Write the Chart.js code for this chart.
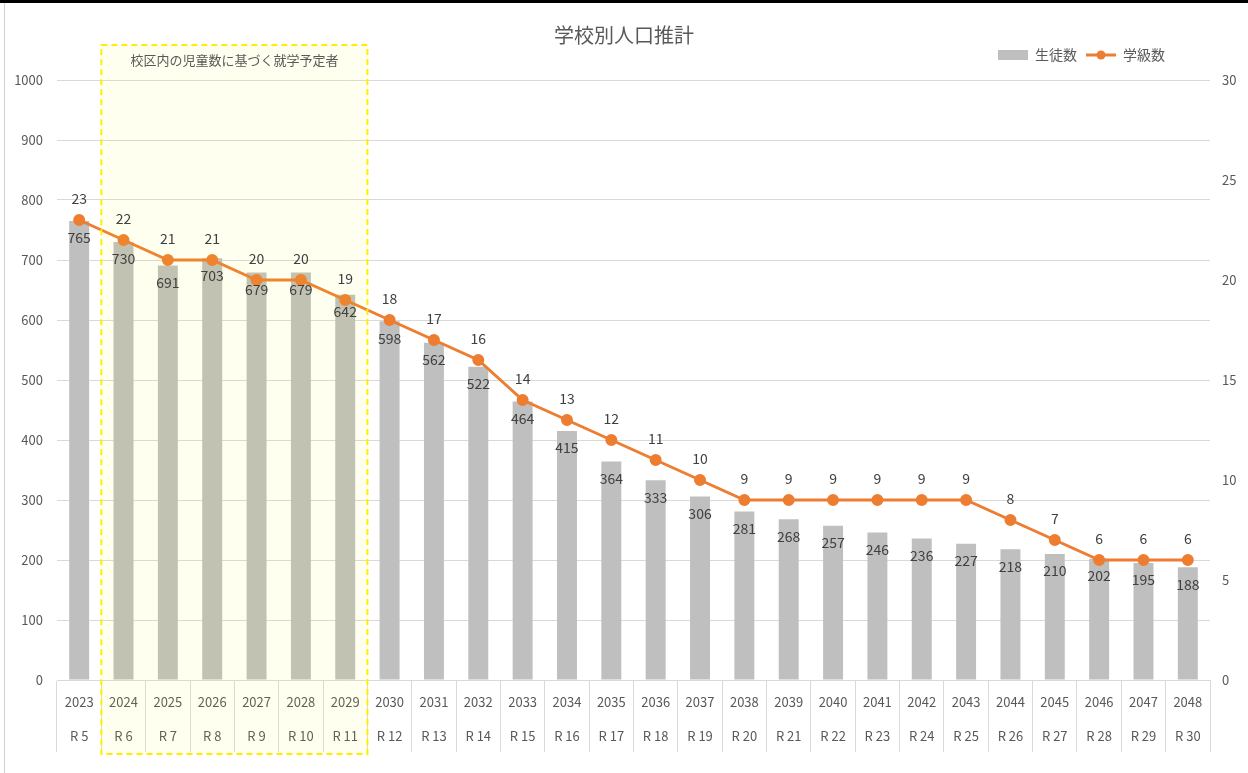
<!DOCTYPE html>
<html>
<head>
<meta charset="utf-8">
<script src="https://cdn.jsdelivr.net/npm/chart.js@4"></script>
<style>
html,body{margin:0;padding:0;background:#fff;}
#wrap{position:relative;width:1248px;height:773px;box-sizing:border-box;border-top:3px solid #000;}
#wrap:before{content:"";position:absolute;left:4px;top:0;bottom:0;border-left:1px solid #d0d0d0;}
</style>
</head>
<body>
<div id="wrap"><canvas id="myChart" width="1248" height="770"></canvas></div>
<script>
// data
var years = ["2023","2024","2025","2026","2027","2028","2029","2030","2031","2032","2033","2034","2035","2036","2037","2038","2039","2040","2041","2042","2043","2044","2045","2046","2047","2048"];
var reiwa = ["R 5","R 6","R 7","R 8","R 9","R 10","R 11","R 12","R 13","R 14","R 15","R 16","R 17","R 18","R 19","R 20","R 21","R 22","R 23","R 24","R 25","R 26","R 27","R 28","R 29","R 30"];
var students = [765,730,691,703,679,679,642,598,562,522,464,415,364,333,306,281,268,257,246,236,227,218,210,202,195,188];
var classes = [23,22,21,21,20,20,19,18,17,16,14,13,12,11,10,9,9,9,9,9,9,8,7,6,6,6];
var boxFrom = 1, boxTo = 6;
var boxText = "校区内の児童数に基づく就学予定者";

var FONT = "'Noto Sans CJK JP','Noto Sans',sans-serif";
var TXT = "#595959";
var labels = [];
for(var i in years){ labels.push([years[i], reiwa[i]]); }

function legendImg(kind){
  var c = document.createElement("canvas");
  c.width = 30; c.height = 12;
  var g = c.getContext("2d");
  if(kind=="bar"){
    g.fillStyle = "#bfbfbf"; g.fillRect(0,1,30,10);
  } else {
    g.strokeStyle = "#ed7d31"; g.lineWidth = 3;
    g.beginPath(); g.moveTo(0,6); g.lineTo(30,6); g.stroke();
    g.fillStyle = "#ed7d31"; g.beginPath(); g.arc(15,6,4.5,0,Math.PI*2); g.fill();
  }
  return c;
}
var legBar = legendImg("bar"), legLine = legendImg("line");

var boxPlugin = {
  id: "box",
  afterLayout: function(chart){
    // legend sits left of the right edge and a bit higher
    var lg = chart.legend;
    lg.right -= 74;
    lg.top -= 8; lg.bottom -= 8;
  },
  afterDatasetsDraw: function(chart){
    var x = chart.scales.x, ctx = chart.ctx;
    var half = (x.getPixelForValue(1) - x.getPixelForValue(0))/2;
    var l = x.getPixelForValue(boxFrom) - half, r = x.getPixelForValue(boxTo) + half;
    ctx.save();
    ctx.fillStyle = "rgba(255,255,0,0.06)";
    ctx.fillRect(l, 42, r-l, 709);
    ctx.strokeStyle = "#ffee00"; ctx.lineWidth = 2; ctx.setLineDash([6,4]);
    ctx.strokeRect(l, 42, r-l, 709);
    ctx.setLineDash([]);
    ctx.fillStyle = TXT; ctx.font = "13px " + FONT;
    ctx.textAlign = "center"; ctx.textBaseline = "middle";
    ctx.fillText(boxText, (l+r)/2, 57);
    ctx.restore();
  },
  afterDraw: function(chart){
    var ctx = chart.ctx;
    ctx.save();
    ctx.fillStyle = "#404040"; ctx.font = "14px " + FONT;
    ctx.textAlign = "center"; ctx.textBaseline = "middle";
    chart.getDatasetMeta(0).data.forEach(function(b, i){
      ctx.fillText(students[i], b.x, b.y + 17);
    });
    chart.getDatasetMeta(1).data.forEach(function(p, i){
      ctx.fillText(classes[i], p.x, p.y - 21);
    });
    ctx.restore();
  }
};

new Chart("myChart", {
  type: "bar",
  data: {
    labels: labels,
    datasets: [{
      label: "生徒数",
      data: students,
      backgroundColor: "#bfbfbf",
      categoryPercentage: 1,
      barPercentage: 0.45,
      yAxisID: "y",
      order: 2
    },{
      type: "line",
      label: "学級数",
      data: classes,
      borderColor: "#ed7d31",
      backgroundColor: "#ed7d31",
      borderWidth: 3,
      pointRadius: 4.5,
      pointHoverRadius: 4.5,
      yAxisID: "y1",
      order: 1
    }]
  },
  plugins: [boxPlugin],
  options: {
    responsive: false,
    animation: false,
    layout: {padding: {left: 0, right: 0, top: 0, bottom: 0}},
    plugins: {
      tooltip: {enabled: false},
      title: {
        display: true, text: "学校別人口推計", color: TXT,
        font: {family: FONT, size: 20, weight: "normal"},
        padding: {top: 20, bottom: 0}
      },
      legend: {
        position: "top", align: "end",
        labels: {
          color: TXT, font: {family: FONT, size: 14}, usePointStyle: true,
          pointStyleWidth: 30, padding: 9,
          generateLabels: function(chart){
            return [
              {text: "生徒数", pointStyle: legBar, fontColor: TXT, datasetIndex: 0, lineWidth: 0, strokeStyle: "rgba(0,0,0,0)", fillStyle: "#bfbfbf"},
              {text: "学級数", pointStyle: legLine, fontColor: TXT, datasetIndex: 1, lineWidth: 0, strokeStyle: "rgba(0,0,0,0)", fillStyle: "#ed7d31"}
            ];
          }
        }
      }
    },
    scales: {
      x: {
        offset: true,
        grid: {drawOnChartArea: false, tickLength: 72, color: "#d9d9d9", offset: true},
        border: {color: "#d9d9d9"},
        ticks: {color: TXT, font: {family: FONT, size: 13, lineHeight: 2.6}, padding: -67, maxRotation: 0, autoSkip: false},
        afterFit: function(s){ s.height = 93; }
      },
      y: {
        position: "left", min: 0, max: 1000,
        ticks: {stepSize: 100, color: TXT, font: {family: FONT, size: 13}, padding: 14,
          callback: function(v){ return String(v); }},
        grid: {color: "#d9d9d9", drawTicks: false},
        border: {display: false},
        afterFit: function(s){ s.width = 57; }
      },
      y1: {
        position: "right", min: 0, max: 30,
        ticks: {stepSize: 5, color: TXT, font: {family: FONT, size: 13}, padding: 12},
        grid: {drawOnChartArea: false, drawTicks: false},
        border: {display: false},
        afterFit: function(s){ s.width = 38; }
      }
    }
  }
});
</script>
</body>
</html>
